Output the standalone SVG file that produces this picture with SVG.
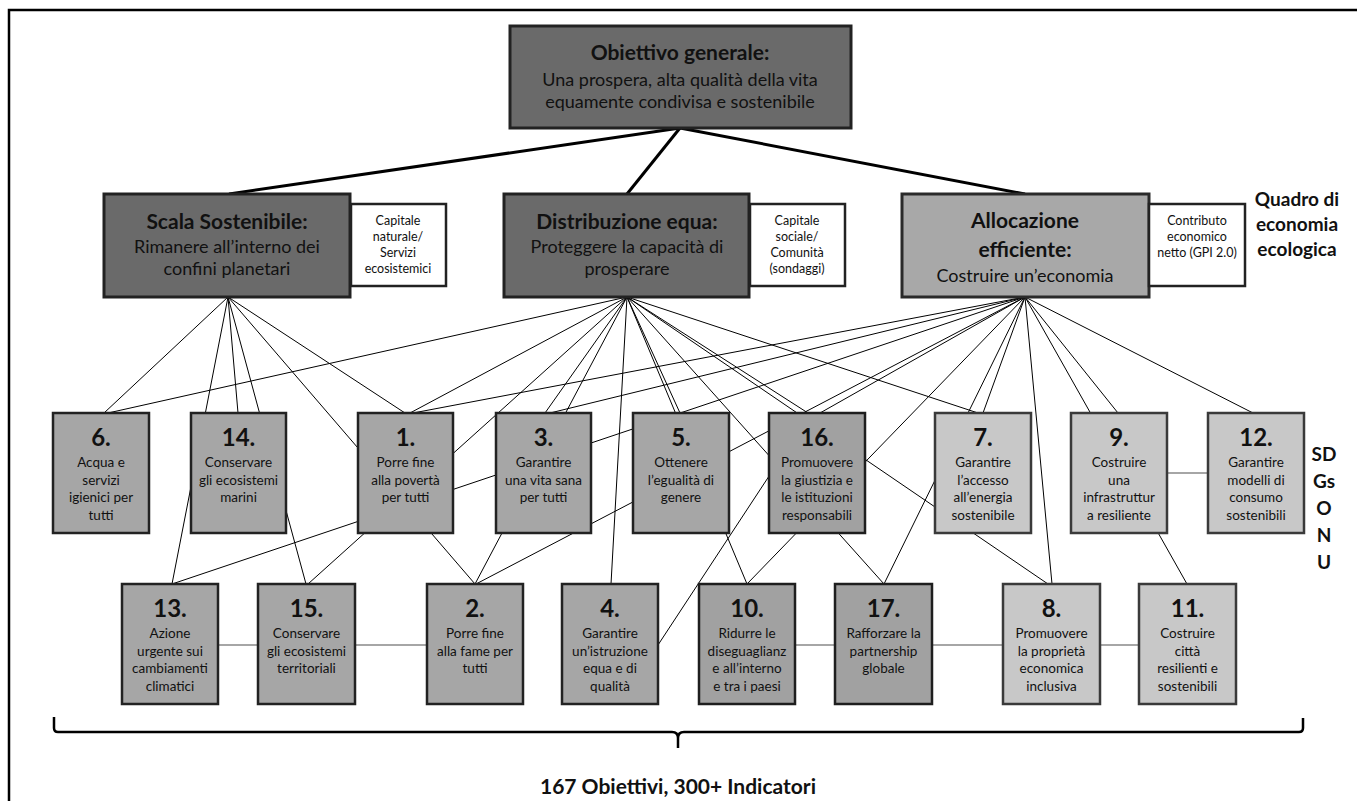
<svg xmlns="http://www.w3.org/2000/svg" width="1357" height="801" viewBox="0 0 1357 801">
<style>
text{font-family:Lato,"Liberation Sans",sans-serif;fill:#111;text-anchor:middle}
.t1{font-size:21px;font-weight:bold}
.t2{font-size:18px}
.cap{font-size:12.5px}
.side{font-size:19px;font-weight:bold}
.foot{font-size:21px;font-weight:bold}
.num{font-size:24px;font-weight:bold}
.b{font-size:13.5px}
.dark{fill:#6a6a6a;stroke:#222;stroke-width:3}
.mid{fill:#a8a8a8;stroke:#2a2a2a;stroke-width:3}
.white{fill:#fff;stroke:#222;stroke-width:2.5}
.s1{fill:#a6a6a6;stroke:#222;stroke-width:2.5}
.s2{fill:#a1a1a1;stroke:#1e1e1e;stroke-width:2.5}
.s3{fill:#c8c8c8;stroke:#3a3a3a;stroke-width:2.5}
.thin{stroke:#000;stroke-width:1;fill:none}
.thick{stroke:#000;stroke-width:3;fill:none}
.link{stroke:#888;stroke-width:1.5;fill:none}
</style>
<rect x="9" y="10" width="1360" height="800" fill="none" stroke="#000" stroke-width="2.5"/>
<g id="connectors">
<line class="thick" x1="680" y1="128" x2="229" y2="194"/>
<line class="thick" x1="680" y1="128" x2="627" y2="194"/>
<line class="thick" x1="680" y1="128" x2="1025" y2="194"/>
<g class="thin">
<line x1="228" y1="297" x2="104" y2="413"/>
<line x1="228" y1="297" x2="172" y2="584"/>
<line x1="228" y1="297" x2="238" y2="413"/>
<line x1="228" y1="297" x2="306" y2="584"/>
<line x1="228" y1="297" x2="405" y2="413"/>
<line x1="228" y1="297" x2="475" y2="584"/>
<line x1="627" y1="297" x2="108" y2="413"/>
<line x1="627" y1="297" x2="410" y2="413"/>
<line x1="627" y1="297" x2="308" y2="584"/>
<line x1="627" y1="297" x2="545" y2="413"/>
<line x1="627" y1="297" x2="475" y2="584"/>
<line x1="627" y1="297" x2="611" y2="584"/>
<line x1="627" y1="297" x2="747" y2="584"/>
<line x1="627" y1="297" x2="680" y2="413"/>
<line x1="627" y1="297" x2="808" y2="413"/>
<line x1="627" y1="297" x2="1048" y2="584"/>
<line x1="627" y1="297" x2="884" y2="584"/>
<line x1="627" y1="297" x2="978" y2="413"/>
<line x1="1025" y1="297" x2="413" y2="413"/>
<line x1="1025" y1="297" x2="550" y2="413"/>
<line x1="1025" y1="297" x2="172" y2="584"/>
<line x1="1025" y1="297" x2="476" y2="584"/>
<line x1="1025" y1="297" x2="820" y2="413"/>
<line x1="1025" y1="297" x2="747" y2="584"/>
<line x1="1025" y1="297" x2="884" y2="584"/>
<line x1="1025" y1="297" x2="983" y2="413"/>
<line x1="1025" y1="297" x2="1052" y2="584"/>
<line x1="1025" y1="297" x2="1187" y2="584"/>
<line x1="1025" y1="297" x2="1118" y2="413"/>
<line x1="1025" y1="297" x2="1253" y2="413"/>
<line x1="658" y1="645" x2="800" y2="429"/>
</g>
<g class="link">
<line x1="218" y1="645" x2="258" y2="645"/>
<line x1="355" y1="645" x2="427" y2="645"/>
<line x1="795" y1="645" x2="835" y2="645"/>
<line x1="932" y1="645" x2="1003" y2="645"/>
<line x1="1100" y1="645" x2="1139" y2="645"/>
<line x1="1167" y1="473" x2="1208" y2="473"/>
</g>
</g>
<g id="goal">
<rect class="dark" x="510" y="26" width="341" height="102"/>
<text class="t1" x="680" y="60">Obiettivo generale:</text>
<text class="t2" x="680" y="86">Una prospera, alta qualità della vita</text>
<text class="t2" x="680" y="108">equamente condivisa e sostenibile</text>
</g>
<g id="scala">
<rect class="dark" x="104" y="194" width="246" height="103"/>
<text class="t1" x="227" y="229">Scala Sostenibile:</text>
<text class="t2" x="227" y="253">Rimanere all’interno dei</text>
<text class="t2" x="227" y="275">confini planetari</text>
</g>
<g id="cap-naturale">
<rect class="white" x="351" y="204" width="95" height="82"/>
<text class="cap" x="398" y="225">Capitale</text>
<text class="cap" x="398" y="241">naturale/</text>
<text class="cap" x="398" y="257">Servizi</text>
<text class="cap" x="398" y="273">ecosistemici</text>
</g>
<g id="distribuzione">
<rect class="dark" x="504" y="194" width="245" height="103"/>
<text class="t1" x="627" y="229">Distribuzione equa:</text>
<text class="t2" x="627" y="253">Proteggere la capacità di</text>
<text class="t2" x="627" y="275">prosperare</text>
</g>
<g id="cap-sociale">
<rect class="white" x="750" y="204" width="95" height="82"/>
<text class="cap" x="797" y="225">Capitale</text>
<text class="cap" x="797" y="241">sociale/</text>
<text class="cap" x="797" y="257">Comunità</text>
<text class="cap" x="797" y="273">(sondaggi)</text>
</g>
<g id="allocazione">
<rect class="mid" x="902" y="194" width="247" height="103"/>
<text class="t1" x="1025" y="228">Allocazione</text>
<text class="t1" x="1025" y="257">efficiente:</text>
<text class="t2" x="1025" y="282">Costruire un’economia</text>
</g>
<g id="contributo">
<rect class="white" x="1149" y="204" width="96" height="82"/>
<text class="cap" x="1197" y="225">Contributo</text>
<text class="cap" x="1197" y="241">economico</text>
<text class="cap" x="1197" y="257">netto (GPI 2.0)</text>
</g>
<g id="quadro">
<text class="side" x="1297" y="206">Quadro di</text>
<text class="side" x="1297" y="231">economia</text>
<text class="side" x="1297" y="256">ecologica</text>
</g>
<g id="sdgs-label">
<text class="side" x="1324" y="461">SD</text>
<text class="side" x="1324" y="488">Gs</text>
<text class="side" x="1324" y="515">O</text>
<text class="side" x="1324" y="542">N</text>
<text class="side" x="1324" y="569">U</text>
</g>
<g id="sdg6">
<rect class="s1" x="53" y="413" width="96" height="120"/>
<text class="num" x="101" y="446">6.</text>
<text class="b" x="101" y="467">Acqua e</text>
<text class="b" x="101" y="484.5">servizi</text>
<text class="b" x="101" y="502">igienici per</text>
<text class="b" x="101" y="519.5">tutti</text>
</g>
<g id="sdg14">
<rect class="s1" x="191" y="413" width="95" height="120"/>
<text class="num" x="238.5" y="446">14.</text>
<text class="b" x="238.5" y="467">Conservare</text>
<text class="b" x="238.5" y="484.5">gli ecosistemi</text>
<text class="b" x="238.5" y="502">marini</text>
</g>
<g id="sdg1">
<rect class="s1" x="358" y="413" width="95" height="120"/>
<text class="num" x="405.5" y="446">1.</text>
<text class="b" x="405.5" y="467">Porre fine</text>
<text class="b" x="405.5" y="484.5">alla povertà</text>
<text class="b" x="405.5" y="502">per tutti</text>
</g>
<g id="sdg3">
<rect class="s1" x="496" y="413" width="95" height="120"/>
<text class="num" x="543.5" y="446">3.</text>
<text class="b" x="543.5" y="467">Garantire</text>
<text class="b" x="543.5" y="484.5">una vita sana</text>
<text class="b" x="543.5" y="502">per tutti</text>
</g>
<g id="sdg5">
<rect class="s1" x="633" y="413" width="96" height="120"/>
<text class="num" x="681" y="446">5.</text>
<text class="b" x="681" y="467">Ottenere</text>
<text class="b" x="681" y="484.5">l’egualità di</text>
<text class="b" x="681" y="502">genere</text>
</g>
<g id="sdg16">
<rect class="s2" x="769" y="413" width="96" height="120"/>
<text class="num" x="817" y="446">16.</text>
<text class="b" x="817" y="467">Promuovere</text>
<text class="b" x="817" y="484.5">la giustizia e</text>
<text class="b" x="817" y="502">le istituzioni</text>
<text class="b" x="817" y="519.5">responsabili</text>
</g>
<g id="sdg7">
<rect class="s3" x="935" y="413" width="96" height="120"/>
<text class="num" x="983" y="446">7.</text>
<text class="b" x="983" y="467">Garantire</text>
<text class="b" x="983" y="484.5">l’accesso</text>
<text class="b" x="983" y="502">all’energia</text>
<text class="b" x="983" y="519.5">sostenibile</text>
</g>
<g id="sdg9">
<rect class="s3" x="1071" y="413" width="96" height="120"/>
<text class="num" x="1119" y="446">9.</text>
<text class="b" x="1119" y="467">Costruire</text>
<text class="b" x="1119" y="484.5">una</text>
<text class="b" x="1119" y="502">infrastruttur</text>
<text class="b" x="1119" y="519.5">a resiliente</text>
</g>
<g id="sdg12">
<rect class="s3" x="1208" y="413" width="96" height="120"/>
<text class="num" x="1256" y="446">12.</text>
<text class="b" x="1256" y="467">Garantire</text>
<text class="b" x="1256" y="484.5">modelli di</text>
<text class="b" x="1256" y="502">consumo</text>
<text class="b" x="1256" y="519.5">sostenibili</text>
</g>
<g id="sdg13">
<rect class="s1" x="122" y="584" width="96" height="120"/>
<text class="num" x="170" y="617">13.</text>
<text class="b" x="170" y="638">Azione</text>
<text class="b" x="170" y="655.5">urgente sui</text>
<text class="b" x="170" y="673">cambiamenti</text>
<text class="b" x="170" y="690.5">climatici</text>
</g>
<g id="sdg15">
<rect class="s1" x="258" y="584" width="97" height="120"/>
<text class="num" x="306.5" y="617">15.</text>
<text class="b" x="306.5" y="638">Conservare</text>
<text class="b" x="306.5" y="655.5">gli ecosistemi</text>
<text class="b" x="306.5" y="673">territoriali</text>
</g>
<g id="sdg2">
<rect class="s1" x="427" y="584" width="96" height="120"/>
<text class="num" x="475" y="617">2.</text>
<text class="b" x="475" y="638">Porre fine</text>
<text class="b" x="475" y="655.5">alla fame per</text>
<text class="b" x="475" y="673">tutti</text>
</g>
<g id="sdg4">
<rect class="s1" x="562" y="584" width="96" height="120"/>
<text class="num" x="610" y="617">4.</text>
<text class="b" x="610" y="638">Garantire</text>
<text class="b" x="610" y="655.5">un’istruzione</text>
<text class="b" x="610" y="673">equa e di</text>
<text class="b" x="610" y="690.5">qualità</text>
</g>
<g id="sdg10">
<rect class="s2" x="699" y="584" width="96" height="120"/>
<text class="num" x="747" y="617">10.</text>
<text class="b" x="747" y="638">Ridurre le</text>
<text class="b" x="747" y="655.5">diseguaglianz</text>
<text class="b" x="747" y="673">e all’interno</text>
<text class="b" x="747" y="690.5">e tra i paesi</text>
</g>
<g id="sdg17">
<rect class="s2" x="835" y="584" width="97" height="120"/>
<text class="num" x="883.5" y="617">17.</text>
<text class="b" x="883.5" y="638">Rafforzare la</text>
<text class="b" x="883.5" y="655.5">partnership</text>
<text class="b" x="883.5" y="673">globale</text>
</g>
<g id="sdg8">
<rect class="s3" x="1003" y="584" width="97" height="120"/>
<text class="num" x="1051.5" y="617">8.</text>
<text class="b" x="1051.5" y="638">Promuovere</text>
<text class="b" x="1051.5" y="655.5">la proprietà</text>
<text class="b" x="1051.5" y="673">economica</text>
<text class="b" x="1051.5" y="690.5">inclusiva</text>
</g>
<g id="sdg11">
<rect class="s3" x="1139" y="584" width="97" height="120"/>
<text class="num" x="1187.5" y="617">11.</text>
<text class="b" x="1187.5" y="638">Costruire</text>
<text class="b" x="1187.5" y="655.5">città</text>
<text class="b" x="1187.5" y="673">resilienti e</text>
<text class="b" x="1187.5" y="690.5">sostenibili</text>
</g>
<g id="brace">
<path d="M54,717 V728 Q54,732 58,732 H672 Q678,732 678,738 V748 M678,738 Q678,732 684,732 H1299 Q1303,732 1303,728 V718" fill="none" stroke="#000" stroke-width="2.5"/>
<text class="foot" x="678" y="794">167 Obiettivi, 300+ Indicatori</text>
</g>
</svg>
